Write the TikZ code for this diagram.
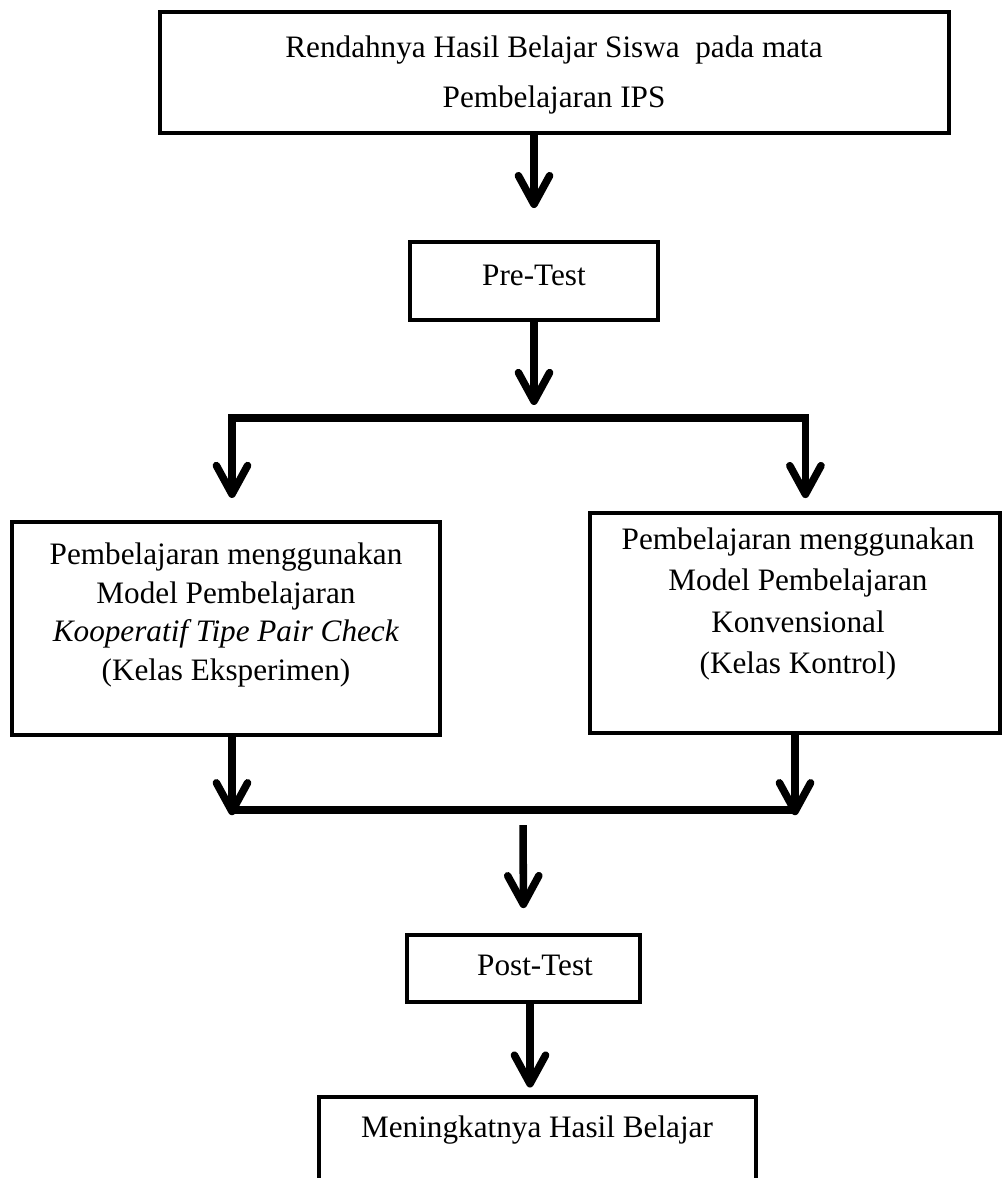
\documentclass[tikz,border=0pt]{standalone}
\usepackage{fontspec}
\setmainfont{Liberation Serif}
\usetikzlibrary{arrows.meta,fit}

\tikzset{
  kotak/.style={draw, line width=1.5pt, inner sep=0pt},
  panah/.style={line width=2.9pt, -{Straight Barb[length=11pt,width=12pt,round]}},
  garis/.style={line width=3.1pt},
  teks/.style={align=center, font=\fontsize{12}{14.8}\selectfont}
}

\begin{document}
\begin{tikzpicture}[x=0.3846pt, y=-0.3846pt]
\useasboundingbox (0,0) rectangle (1002,1178);
\clip (0,0) rectangle (1002,1178);

% kotak
\node[kotak, line width=1.9pt, fit={(160,12) (949,133)}] (rendah) {};
\node[teks, font=\fontsize{12}{19.2}\selectfont] (tRendah) at (554,75) {Rendahnya Hasil Belajar Siswa\ \ pada mata\\Pembelajaran IPS};
\node[kotak, fit={(410,242) (658,320)}] (pre) {};
\node[teks] (tPre) at (534,275) {Pre-Test};
\node[kotak, fit={(12,522) (440,735)}] (eksp) {};
\node[teks] (tEksp) at (226,615) {Pembelajaran menggunakan\\Model Pembelajaran\\\textit{Kooperatif Tipe Pair Check}\\(Kelas Eksperimen)};
\node[kotak, fit={(590,513) (1000,733)}] (konv) {};
\node[teks, font=\fontsize{12}{15.8}\selectfont] (tKonv) at (798,604) {Pembelajaran menggunakan\\Model Pembelajaran\\Konvensional\\(Kelas Kontrol)};
\node[kotak, fit={(407,935) (640,1002)}] (post) {};
\node[teks] (tPost) at (535,965) {Post-Test};
\node[kotak, line width=1.9pt, fit={(319,1097) (756,1230)}] (hasil) {};
\node[teks] (tHasil) at (537,1130) {Meningkatnya Hasil Belajar};

% panah
\coordinate (cabang) at (534,418);
\coordinate (gabung) at (523,810);
\draw[panah, shorten >=12.3pt] (rendah.south -| pre.north) -- (pre.north);
\draw[panah, shorten >=5pt] (pre.south) -- (cabang);
\draw[panah, shorten >=8.5pt] (cabang) -| ([xshift=2.3pt]eksp.north);
\draw[panah, shorten >=5pt] (cabang) -| ([xshift=4pt]konv.north);
\draw[panah, shorten >=-2pt] ([xshift=2.3pt]eksp.south) -- ([xshift=2.3pt]eksp.south |- gabung);
\draw[panah, shorten >=-2pt] (konv.south) -- (konv.south |- gabung);
\draw[garis] ([xshift=2.3pt]eksp.south |- gabung) -- (konv.south |- gabung);
\draw[panah, shorten <=5.8pt, shorten >=9.6pt] (gabung) -- (post.north);
\draw[panah, shorten >=2.7pt] ([xshift=2.5pt]post.south) -- ([xshift=2.5pt]post.south |- hasil.north);
\end{tikzpicture}
\end{document}
